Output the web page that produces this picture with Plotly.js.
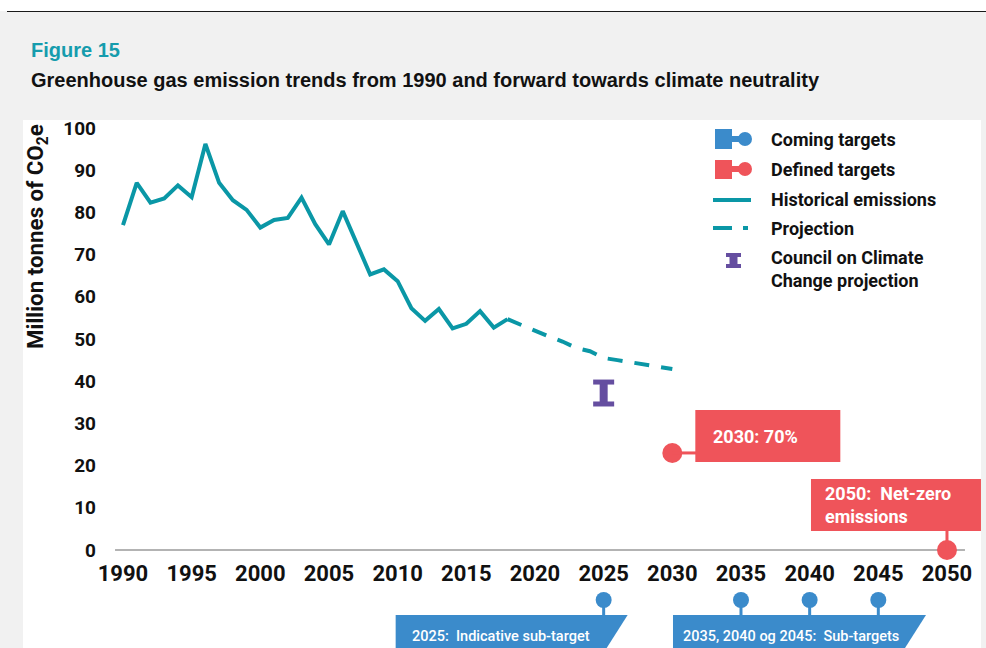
<!DOCTYPE html>
<html><head><meta charset="utf-8">
<script src="https://cdn.plot.ly/plotly-3.0.1.min.js"></script>
<style>html,body{margin:0;padding:0;background:#f1f1f1;overflow:hidden}#chart{width:986px;height:648px}</style>
</head><body><div id="chart"></div>
<script>
// ---------------- data ----------------
const histYears = [1990,1991,1992,1993,1994,1995,1996,1997,1998,1999,2000,2001,2002,2003,2004,2005,2006,2007,2008,2009,2010,2011,2012,2013,2014,2015,2016,2017,2018];
const histValues = [77.0,87.0,82.3,83.3,86.4,83.6,96.2,87.0,82.9,80.6,76.4,78.2,78.7,83.5,77.2,72.4,80.3,72.9,65.3,66.5,63.7,57.3,54.3,57.1,52.5,53.6,56.6,52.7,54.7];
const projYears = [2018,2019,2020,2021,2022,2023,2024,2025,2026,2027,2028,2029,2030];
const projValues = [54.7,53.3,51.9,50.6,49.4,47.9,47.1,45.5,45.0,44.5,44.0,43.4,42.9];
const councilYear = 2025;
const councilRange = [34.6, 39.8];
const definedYears = [2030, 2050];
const definedValues = [23, 0];
const definedLabels = ['2030: 70%', '2050:\u00a0 Net-zero<br>emissions'];
const comingYears = [2025, 2035, 2040, 2045];
const comingLabels = ['2025:\u00a0 Indicative sub-target', '2035, 2040 og 2045:\u00a0 Sub-targets'];
const xTicks = [1990,1995,2000,2005,2010,2015,2020,2025,2030,2035,2040,2045,2050];
const yTicks = [0,10,20,30,40,50,60,70,80,90,100];
const legendLabels = ['Coming targets','Defined targets','Historical emissions','Projection','Council on Climate<br>Change projection'];

// ---------------- style ----------------
const TEAL = '#0a97a6', RED = '#ef545a', BLUE = '#3b8bcb', PURPLE = '#654ea0';
const COMING_Y = -11.85; // vertical position of the coming-target markers below the axis
const L = 115, R = 981, T = 128, B = 648;
const X = px => (px - L) / (R - L);
const Y = py => (B - py) / (B - T);

const traces = [
  {x: histYears, y: histValues, mode: 'lines', line: {color: TEAL, width: 4}, hoverinfo: 'skip', showlegend: false},
  {x: projYears, y: projValues, mode: 'lines', line: {color: TEAL, width: 4, dash: '15px,12px'}, hoverinfo: 'skip', showlegend: false},
  {x: [councilYear, councilYear], y: councilRange, mode: 'lines+markers', line: {color: PURPLE, width: 8},
   marker: {symbol: 'line-ew', size: 15, line: {color: PURPLE, width: 5}}, hoverinfo: 'skip', showlegend: false},
  {x: definedYears, y: definedValues, mode: 'markers', marker: {color: RED, size: 20}, cliponaxis: false, hoverinfo: 'skip', showlegend: false},
  {x: comingYears, y: comingYears.map(() => COMING_Y), mode: 'markers', marker: {color: BLUE, size: 16}, cliponaxis: false, hoverinfo: 'skip', showlegend: false}
];

const shapes = [
  // page decorations
  {type: 'rect', xref: 'paper', yref: 'paper', x0: X(0), x1: X(986), y0: Y(0), y1: Y(11), fillcolor: '#ffffff', line: {width: 0}, layer: 'below'},
  {type: 'line', xref: 'paper', yref: 'paper', x0: X(7), x1: X(986), y0: Y(11.5), y1: Y(11.5), line: {color: '#1a1a1a', width: 1.2}, layer: 'below'},
  {type: 'rect', xref: 'paper', yref: 'paper', x0: X(23), x1: X(981), y0: Y(648), y1: Y(120), fillcolor: '#ffffff', line: {width: 0}, layer: 'below'},
  // axis line at zero
  {type: 'line', xref: 'x', yref: 'y', x0: 1989.42, x1: 2051.31, y0: 0, y1: 0, line: {color: '#9a9a9a', width: 1.5}, layer: 'below'},
];

// coming target stems
comingYears.forEach(yr => shapes.push({type: 'line', xref: 'x', yref: 'y', xsizemode: 'pixel', ysizemode: 'pixel',
  xanchor: yr, yanchor: COMING_Y, x0: 0, x1: 0, y0: 0, y1: -16, line: {color: BLUE, width: 3}, layer: 'below'}));
// coming target boxes (slanted right edge)
shapes.push({type: 'path', xref: 'x', yref: 'y', xsizemode: 'pixel', ysizemode: 'pixel', xanchor: comingYears[0], yanchor: COMING_Y,
  path: 'M -208,-15 L 24,-15 L 3,-48 L -208,-48 Z', fillcolor: BLUE, line: {width: 0}});
shapes.push({type: 'path', xref: 'x', yref: 'y', xsizemode: 'pixel', ysizemode: 'pixel', xanchor: comingYears[1], yanchor: COMING_Y,
  path: 'M -68,-15 L 185,-15 L 164,-48 L -68,-48 Z', fillcolor: BLUE, line: {width: 0}});

// defined target connectors and boxes
shapes.push({type: 'line', xref: 'x', yref: 'y', xsizemode: 'pixel', ysizemode: 'pixel', xanchor: definedYears[0], yanchor: definedValues[0],
  x0: 0, x1: 24, y0: 0, y1: 0, line: {color: RED, width: 3}});
shapes.push({type: 'rect', xref: 'x', yref: 'y', xsizemode: 'pixel', ysizemode: 'pixel', xanchor: definedYears[0], yanchor: definedValues[0],
  x0: 23, x1: 168, y0: -9, y1: 43, fillcolor: RED, line: {width: 0}});
shapes.push({type: 'line', xref: 'x', yref: 'y', xsizemode: 'pixel', ysizemode: 'pixel', xanchor: definedYears[1], yanchor: definedValues[1],
  x0: 0, x1: 0, y0: 0, y1: 20, line: {color: RED, width: 3}});
shapes.push({type: 'rect', xref: 'x', yref: 'y', xsizemode: 'pixel', ysizemode: 'pixel', xanchor: definedYears[1], yanchor: definedValues[1],
  x0: -136, x1: 34, y0: 19, y1: 71, fillcolor: RED, line: {width: 0}});

// legend icons
shapes.push({type: 'rect', xref: 'paper', yref: 'paper', x0: X(715), x1: X(732), y0: Y(149), y1: Y(129), fillcolor: BLUE, line: {width: 0}});
shapes.push({type: 'rect', xref: 'paper', yref: 'paper', x0: X(731), x1: X(741), y0: Y(142), y1: Y(136), fillcolor: BLUE, line: {width: 0}});
shapes.push({type: 'circle', xref: 'paper', yref: 'paper', x0: X(738), x1: X(752), y0: Y(146), y1: Y(132), fillcolor: BLUE, line: {width: 0}});
shapes.push({type: 'rect', xref: 'paper', yref: 'paper', x0: X(715), x1: X(732), y0: Y(179), y1: Y(160), fillcolor: RED, line: {width: 0}});
shapes.push({type: 'rect', xref: 'paper', yref: 'paper', x0: X(731), x1: X(741), y0: Y(172), y1: Y(166), fillcolor: RED, line: {width: 0}});
shapes.push({type: 'circle', xref: 'paper', yref: 'paper', x0: X(738), x1: X(752), y0: Y(176), y1: Y(162), fillcolor: RED, line: {width: 0}});
shapes.push({type: 'line', xref: 'paper', yref: 'paper', x0: X(713), x1: X(751), y0: Y(200), y1: Y(200), line: {color: TEAL, width: 4}});
shapes.push({type: 'line', xref: 'paper', yref: 'paper', x0: X(713), x1: X(732), y0: Y(228), y1: Y(228), line: {color: TEAL, width: 4}});
shapes.push({type: 'line', xref: 'paper', yref: 'paper', x0: X(743), x1: X(748), y0: Y(228), y1: Y(228), line: {color: TEAL, width: 4}});
shapes.push({type: 'rect', xref: 'paper', yref: 'paper', x0: X(729.5), x1: X(737.5), y0: Y(268), y1: Y(253), fillcolor: PURPLE, line: {width: 0}});
shapes.push({type: 'rect', xref: 'paper', yref: 'paper', x0: X(726), x1: X(741), y0: Y(257), y1: Y(253), fillcolor: PURPLE, line: {width: 0}});
shapes.push({type: 'rect', xref: 'paper', yref: 'paper', x0: X(726), x1: X(741), y0: Y(268), y1: Y(264), fillcolor: PURPLE, line: {width: 0}});

const RB = {family: 'Roboto', weight: 700};
const annotations = [
  {xref: 'paper', yref: 'paper', x: X(29), y: Y(50), xanchor: 'left', yanchor: 'middle', showarrow: false,
   text: 'Figure 15', font: {family: 'Liberation Sans', weight: 700, size: 20, color: '#159cad'}},
  {xref: 'paper', yref: 'paper', x: X(29), y: Y(80), xanchor: 'left', yanchor: 'middle', showarrow: false,
   text: 'Greenhouse gas emission trends from 1990 and forward towards climate neutrality', font: {family: 'Liberation Sans', weight: 700, size: 20, color: '#111'}},
  {xref: 'paper', yref: 'paper', x: X(37), y: Y(237), xanchor: 'center', yanchor: 'middle', showarrow: false, textangle: -90,
   text: 'Million tonnes of CO<sub>2</sub>e', font: Object.assign({size: 22.3, color: '#111'}, RB)},
  // defined target labels
  {xref: 'x', yref: 'y', x: definedYears[0], y: definedValues[0], xshift: 39, yshift: 16, xanchor: 'left', yanchor: 'middle', showarrow: false,
   text: definedLabels[0], font: Object.assign({size: 18, color: '#fff'}, RB)},
  {xref: 'x', yref: 'y', x: definedYears[1], y: definedValues[1], xshift: -124, yshift: 45, xanchor: 'left', yanchor: 'middle', align: 'left', showarrow: false,
   text: definedLabels[1], font: Object.assign({size: 18, color: '#fff'}, RB)},
  // coming target labels
  {xref: 'x', yref: 'y', x: comingYears[0], y: COMING_Y, xshift: -194, yshift: -36, xanchor: 'left', yanchor: 'middle', showarrow: false,
   text: comingLabels[0], font: {family: 'Roboto', weight: 500, size: 14.5, color: '#fff'}},
  {xref: 'x', yref: 'y', x: comingYears[1], y: COMING_Y, xshift: -60, yshift: -36, xanchor: 'left', yanchor: 'middle', showarrow: false,
   text: comingLabels[1], font: {family: 'Roboto', weight: 500, size: 14.5, color: '#fff'}},
];
const legendY = [139, 169, 200, 228, 268.5];
legendLabels.forEach((t, i) => annotations.push({xref: 'paper', yref: 'paper', x: X(769), y: Y(legendY[i]), xanchor: 'left', yanchor: 'middle',
  align: 'left', showarrow: false, text: t, font: Object.assign({size: 18, color: '#111'}, RB)}));

const layout = {
  width: 986, height: 648,
  margin: {l: L, r: 986 - R, t: T, b: 648 - B, pad: 0},
  paper_bgcolor: '#f1f1f1', plot_bgcolor: 'rgba(0,0,0,0)',
  showlegend: false,
  xaxis: {range: [1989.4175, 2052.477], anchor: 'free', position: (B - 550) / (B - T), tickvals: xTicks, ticktext: xTicks.map(String),
    showgrid: false, zeroline: false, showline: false, ticks: '', ticklabelstandoff: 8,
    tickfont: Object.assign({size: 22, color: '#111'}, RB), fixedrange: true},
  yaxis: {range: [-23.22, 100], tickvals: yTicks, ticktext: yTicks.map(String), showgrid: false, zeroline: false, showline: false,
    ticks: '', ticklabelstandoff: 18, tickfont: Object.assign({size: 19, color: '#111'}, RB), fixedrange: true},
  shapes: shapes, annotations: annotations
};
Plotly.newPlot('chart', traces, layout, {displayModeBar: false, staticPlot: true});
</script></body></html>
